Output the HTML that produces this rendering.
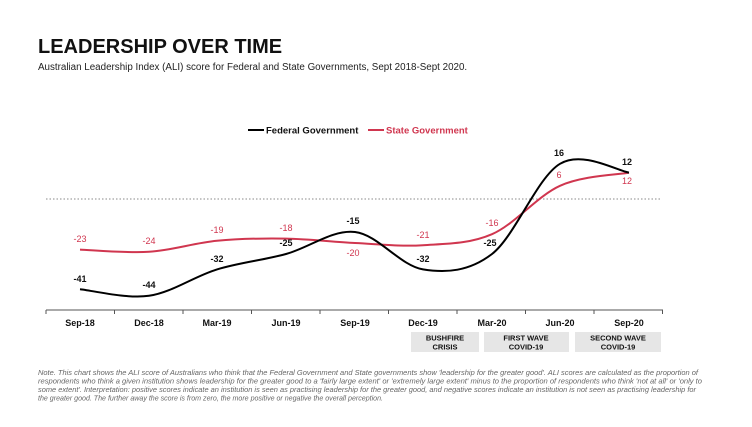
<!DOCTYPE html>
<html><head><meta charset="utf-8"><style>
body{margin:0;background:#fff;width:752px;height:422px;overflow:hidden;font-family:"Liberation Sans",sans-serif}
</style></head><body>
<svg id="s" width="752" height="422" viewBox="0 0 752 422" xmlns="http://www.w3.org/2000/svg" font-family="Liberation Sans, sans-serif">
<text x="38" y="53" font-size="20" font-weight="bold" fill="#111">LEADERSHIP OVER TIME</text>
<text x="38" y="70" font-size="9.8" fill="#222">Australian Leadership Index (ALI) score for Federal and State Governments, Sept 2018-Sept 2020.</text>
<line x1="248" y1="130" x2="264" y2="130" stroke="#000" stroke-width="2"/>
<text x="266" y="133.5" font-size="9.5" font-weight="bold" fill="#111">Federal Government</text>
<line x1="368" y1="130" x2="384" y2="130" stroke="#d0364f" stroke-width="2"/>
<text x="386" y="133.5" font-size="9.5" font-weight="bold" fill="#d0364f">State Government</text>
<line x1="46" y1="199" x2="662" y2="199" stroke="#888" stroke-width="1" stroke-dasharray="1.5,2"/>
<line x1="46" y1="310" x2="663" y2="310" stroke="#555" stroke-width="1"/>
<g id="ticks" stroke="#555"></g>
<g font-size="9" font-weight="bold" fill="#111" text-anchor="middle">
<text x="80" y="326">Sep-18</text><text x="149" y="326">Dec-18</text><text x="217" y="326">Mar-19</text><text x="286" y="326">Jun-19</text><text x="355" y="326">Sep-19</text><text x="423" y="326">Dec-19</text><text x="492" y="326">Mar-20</text><text x="560" y="326">Jun-20</text><text x="629" y="326">Sep-20</text>
</g>
<rect x="411" y="332" width="68" height="20" fill="#e6e6e6"/>
<rect x="484" y="332" width="85" height="20" fill="#e6e6e6"/>
<rect x="575" y="332" width="86" height="20" fill="#e6e6e6"/>
<g font-size="7.5" font-weight="bold" fill="#111" text-anchor="middle">
<text x="445" y="340.5">BUSHFIRE</text><text x="445" y="349.5">CRISIS</text>
<text x="526" y="340.5">FIRST WAVE</text><text x="526" y="349.5">COVID-19</text>
<text x="618" y="340.5">SECOND WAVE</text><text x="618" y="349.5">COVID-19</text>
</g>
<path id="st" fill="none" stroke="#d0364f" stroke-width="2"/>
<path id="fe" fill="none" stroke="#000" stroke-width="2"/>
<g font-size="9" fill="#d0364f" text-anchor="middle">
<text x="80" y="242">-23</text><text x="149" y="244">-24</text><text x="217" y="233">-19</text><text x="286" y="231">-18</text><text x="353" y="256">-20</text><text x="423" y="238">-21</text><text x="492" y="226">-16</text><text x="559" y="178">6</text><text x="627" y="184">12</text>
</g>
<g font-size="9" font-weight="bold" fill="#111" text-anchor="middle">
<text x="80" y="282">-41</text><text x="149" y="288">-44</text><text x="217" y="262">-32</text><text x="286" y="246">-25</text><text x="353" y="224">-15</text><text x="423" y="262">-32</text><text x="490" y="246">-25</text><text x="559" y="156">16</text><text x="627" y="165">12</text>
</g>
<g font-size="7.4" font-style="italic" fill="#666">
<text x="38" y="375" textLength="660" lengthAdjust="spacingAndGlyphs">Note. This chart shows the ALI score of Australians who think that the Federal Government and State governments show 'leadership for the greater good'. ALI scores are calculated as the proportion of</text>
<text x="38" y="383.5" textLength="664" lengthAdjust="spacingAndGlyphs">respondents who think a given institution shows leadership for the greater good to a 'fairly large extent' or 'extremely large extent' minus to the proportion of respondents who think 'not at all' or 'only to</text>
<text x="38" y="392" textLength="658" lengthAdjust="spacingAndGlyphs">some extent'. Interpretation: positive scores indicate an institution is seen as practising leadership for the greater good, and negative scores indicate an institution is not seen as practising leadership for</text>
<text x="38" y="400.5" textLength="345" lengthAdjust="spacingAndGlyphs">the greater good. The further away the score is from zero, the more positive or negative the overall perception.</text>
</g>
</svg>
<script>
var xs=[80,149,217,286,355,423,492,560,629];
function path(v){var p=v.map(function(a,i){return [xs[i],199-2.2*a]});var d="M"+p[0][0]+","+p[0][1];
for(var i=0;i<p.length-1;i++){var p0=p[i-1]||p[i],p1=p[i],p2=p[i+1],p3=p[i+2]||p2;
d+=" C"+(p1[0]+(p2[0]-p0[0])/6)+","+(p1[1]+(p2[1]-p0[1])/6)+" "+(p2[0]-(p3[0]-p1[0])/6)+","+(p2[1]-(p3[1]-p1[1])/6)+" "+p2[0]+","+p2[1];}return d;}
document.getElementById("fe").setAttribute("d",path([-41,-44,-32,-25,-15,-32,-25,16,12]));
document.getElementById("st").setAttribute("d",path([-23,-24,-19,-18,-20,-21,-16,6,12]));
var g=document.getElementById("ticks"),h="";
for(var i=0;i<10;i++){var x=46+i*68.5;h+='<line x1="'+x+'" y1="310" x2="'+x+'" y2="314"/>';}
g.innerHTML=h;
</script>
</body></html>
